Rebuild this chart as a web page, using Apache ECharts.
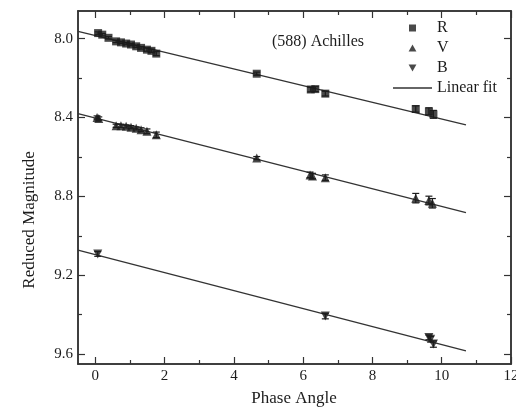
<!DOCTYPE html>
<html><head><meta charset="utf-8">
<script src="https://cdn.jsdelivr.net/npm/echarts@6/dist/echarts.min.js"></script>
<style>html,body{margin:0;padding:0;background:#fff}#c{width:516px;height:408px}</style>
</head><body><div id="c"></div>
<script>
// ---- data ----
const R_x = [0.08, 0.20, 0.38, 0.60, 0.74, 0.89, 1.03, 1.18, 1.32, 1.49, 1.62, 1.76, 4.66, 6.22, 6.35, 6.64, 9.25, 9.63, 9.76];
const R_y = [7.972, 7.980, 7.996, 8.014, 8.019, 8.025, 8.030, 8.039, 8.047, 8.056, 8.062, 8.076, 8.178, 8.258, 8.256, 8.279, 8.357, 8.369, 8.384];
const R_err = [0.006, 0.006, 0.006, 0.006, 0.006, 0.006, 0.006, 0.006, 0.006, 0.008, 0.008, 0.010, 0.008, 0.012, 0.012, 0.012, 0.016, 0.018, 0.020];
const V_x = [0.05, 0.10, 0.60, 0.74, 0.89, 1.03, 1.18, 1.32, 1.49, 1.76, 4.66, 6.20, 6.27, 6.64, 9.25, 9.63, 9.73];
const V_y = [8.400, 8.405, 8.442, 8.442, 8.445, 8.449, 8.455, 8.462, 8.470, 8.488, 8.606, 8.691, 8.697, 8.705, 8.809, 8.821, 8.835];
const V_err = [0.008, 0.008, 0.008, 0.008, 0.008, 0.008, 0.008, 0.010, 0.012, 0.014, 0.008, 0.014, 0.014, 0.014, 0.024, 0.022, 0.024];
const B_x = [0.07, 6.64, 9.63, 9.68, 9.76];
const B_y = [9.092, 9.407, 9.515, 9.525, 9.549];
const B_err = [0.012, 0.014, 0.012, 0.014, 0.016];
const fit_x = [-0.5, 10.7];
const fitR_y = [7.963, 8.437];
const fitV_y = [8.381, 8.882];
const fitB_y = [9.072, 9.583];
const xMajor = [0, 2, 4, 6, 8, 10, 12];
const xMinor = [1, 3, 5, 7, 9, 11];
const yMajor = [8.0, 8.4, 8.8, 9.2, 9.6];
const yMinor = [8.2, 8.6, 9.0, 9.4];

// ---- build ----
const FONT = '"Liberation Serif", "DejaVu Serif", serif';
const INK = '#1c1c1c';
const zip = (xs, ys) => xs.map((x, i) => [x, ys[i]]);
const errData = (xs, ys, es) => xs.map((x, i) => [x, ys[i] - es[i], ys[i] + es[i]]);
const SQ = 'path://M0,0L10,0L10,10L0,10Z';
const TU = 'path://M5,0L10,9L0,9Z';
const TD = 'path://M0,0L10,0L5,9Z';
const LN = 'path://M0,0L39,0L39,1.3L0,1.3Z';

const gridRect = {left: 78, right: 5, top: 11, bottom: 44, outerBoundsMode: 'none', containLabel: false};
const axLine = {show: true, onZero: false, lineStyle: {color: '#333', width: 1.5}};
function xAx(gi, pos, ticks, len, labels) {
  return {type: 'value', gridIndex: gi, position: pos, min: -0.5, max: 12,
    axisLine: axLine, splitLine: {show: false},
    axisTick: {show: true, inside: true, length: len, customValues: ticks, lineStyle: {color: '#333', width: 1.2}},
    axisLabel: labels ? {show: true, customValues: xMajor, fontFamily: FONT, fontSize: 15, color: INK, margin: 5,
      hideOverlap: false, showMaxLabel: true} : {show: false}};
}
function yAx(gi, pos, ticks, len, labels) {
  return {type: 'value', gridIndex: gi, position: pos, min: 7.86, max: 9.65, inverse: true,
    axisLine: axLine, splitLine: {show: false},
    axisTick: {show: true, inside: true, length: len, customValues: ticks, lineStyle: {color: '#333', width: 1.2}},
    axisLabel: labels ? {show: true, customValues: yMajor, fontFamily: FONT, fontSize: 15, color: INK, margin: 5,
      formatter: v => v.toFixed(1)} : {show: false}};
}
function errSeries(data) {
  return {type: 'custom', xAxisIndex: 0, yAxisIndex: 0, silent: true, z: 3,
    renderItem: function (params, api) {
      const a = api.coord([api.value(0), api.value(1)]);
      const b = api.coord([api.value(0), api.value(2)]);
      const w = 3.5, st = {stroke: INK, lineWidth: 1.2};
      return {type: 'group', children: [
        {type: 'line', shape: {x1: a[0], y1: a[1], x2: b[0], y2: b[1]}, style: st},
        {type: 'line', shape: {x1: a[0] - w, y1: a[1], x2: a[0] + w, y2: a[1]}, style: st},
        {type: 'line', shape: {x1: b[0] - w, y1: b[1], x2: b[0] + w, y2: b[1]}, style: st}
      ]};
    },
    data: data};
}
function fitSeries(name, ys) {
  return {name: name, type: 'line', xAxisIndex: 0, yAxisIndex: 0, symbol: 'none', z: 2,
    itemStyle: {color: '#333'}, lineStyle: {color: '#333', width: 1.3}, data: zip(fit_x, ys)};
}
function ptSeries(name, sym, size, xs, ys) {
  return {name: name, type: 'scatter', xAxisIndex: 0, yAxisIndex: 0, symbol: sym, symbolSize: size, z: 4,
    itemStyle: {color: INK}, data: zip(xs, ys)};
}

const option = {
  animation: false,
  backgroundColor: '#fff',
  grid: [Object.assign({}, gridRect), Object.assign({}, gridRect)],
  xAxis: [xAx(0, 'bottom', xMajor, 7, true), xAx(0, 'top', xMajor, 7, false),
          xAx(1, 'bottom', xMinor, 4, false), xAx(1, 'top', xMinor, 4, false)],
  yAxis: [yAx(0, 'left', yMajor, 7, true), yAx(0, 'right', yMajor, 7, false),
          yAx(1, 'left', yMinor, 4, false), yAx(1, 'right', yMinor, 4, false)],
  legend: {orient: 'vertical', left: 393, top: 20, padding: 0, itemWidth: 39, itemHeight: 7, itemGap: 4,
    textStyle: {fontFamily: FONT, fontSize: 16, color: INK},
    data: [{name: 'R', icon: SQ}, {name: 'V', icon: TU}, {name: 'B', icon: TD}, {name: 'Linear fit', icon: LN}]},
  graphic: [
    {type: 'text', left: 272, top: 34, style: {text: '(588) Achilles', font: '16px ' + FONT, fill: INK}},
    {type: 'text', x: 30, y: 220, rotation: Math.PI / 2,
      style: {text: 'Reduced Magnitude', font: '17px ' + FONT, fill: INK, align: 'center', verticalAlign: 'middle'}},
    {type: 'text', x: 294, y: 399,
      style: {text: 'Phase Angle', font: '17px ' + FONT, fill: INK, align: 'center', verticalAlign: 'middle'}}
  ],
  series: [
    fitSeries('Linear fit', fitR_y), fitSeries('fitV', fitV_y), fitSeries('fitB', fitB_y),
    errSeries(errData(R_x, R_y, R_err)), errSeries(errData(V_x, V_y, V_err)), errSeries(errData(B_x, B_y, B_err)),
    ptSeries('R', SQ, 8, R_x, R_y), ptSeries('V', TU, 9, V_x, V_y), ptSeries('B', TD, 9, B_x, B_y)
  ]
};
const chart = echarts.init(document.getElementById('c'), null, {renderer: 'canvas'});
chart.setOption(option);
</script></body></html>
